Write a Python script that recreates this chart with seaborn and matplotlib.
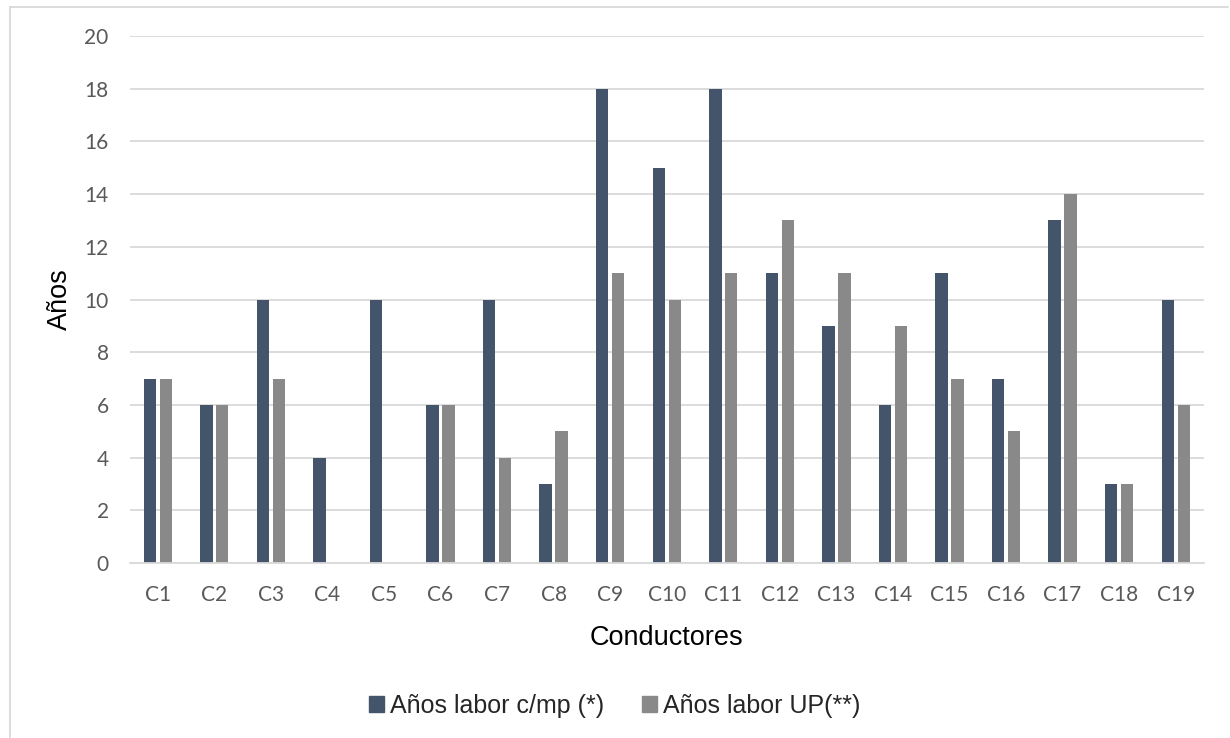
import matplotlib
matplotlib.use("Agg")
import matplotlib.pyplot as plt
import matplotlib.patches as mpatches
import pandas as pd
import seaborn as sns

conductores = [f"C{i}" for i in range(1, 20)]
anios_cmp = [7, 6, 10, 4, 10, 6, 10, 3, 18, 15, 18, 11, 9, 6, 11, 7, 13, 3, 10]
anios_up = [7, 6, 7, 0, 0, 6, 4, 5, 11, 10, 11, 13, 11, 9, 7, 5, 14, 3, 6]
series = ["Años labor c/mp (*)", "Años labor UP(**)"]
colores = ["#44546A", "#898989"]

df = pd.DataFrame({
    "Conductor": conductores * 2,
    "Años": anios_cmp + anios_up,
    "Serie": [series[0]] * len(conductores) + [series[1]] * len(conductores),
})

sns.set_style("white")
plt.rcParams["font.family"] = ["Lato", "DejaVu Sans"]

fig = plt.figure(figsize=(12.3, 7.38), dpi=100)
ax = fig.add_axes([129.5 / 1230, 1 - 563 / 738, (1204 - 129.5) / 1230, (563 - 36) / 738])

sns.barplot(data=df, x="Conductor", y="Años", hue="Serie", order=conductores,
            hue_order=series, palette=colores, width=0.564, gap=0.226,
            linewidth=0, saturation=1, ax=ax, legend=False)

ax.set_xlim(-0.5, len(conductores) - 0.5)
ax.set_ylim(0, 20)
ax.set_yticks(range(0, 21, 2))
ax.yaxis.grid(True, color="#d9d9d9", linewidth=1.3)
ax.set_axisbelow(True)
for side in ["left", "right", "top"]:
    ax.spines[side].set_visible(False)
ax.spines["bottom"].set_color("#d9d9d9")
ax.spines["bottom"].set_linewidth(1.3)
ax.tick_params(axis="both", length=0, labelsize=15, labelcolor="#595959")
ax.tick_params(axis="y", pad=15)
ax.tick_params(axis="x", pad=16)

ax.set_xlabel("Conductores", family="Liberation Sans", fontsize=19.5, color="black", labelpad=14)
ax.set_ylabel("Años", family="Liberation Sans", fontsize=19.5, color="black", labelpad=8)

handles = [mpatches.Patch(color=c, label=s) for c, s in zip(colores, series)]
fig.legend(handles=handles, loc="center", bbox_to_anchor=(0.5, 1 - 706 / 738), ncol=2,
           frameon=False, prop={"family": "Liberation Sans", "size": 18},
           handlelength=0.6, handleheight=0.6, handletextpad=0.25, columnspacing=1.5)

# chart frame
fig.add_artist(plt.Line2D([9.5 / 1230, 9.5 / 1230], [0, 1 - 7 / 738], color="#d9d9d9", linewidth=1.3))
fig.add_artist(plt.Line2D([9.5 / 1230, 1228 / 1230], [1 - 7 / 738, 1 - 7 / 738], color="#d9d9d9", linewidth=1.3))

fig.savefig("out.png", dpi=100)
